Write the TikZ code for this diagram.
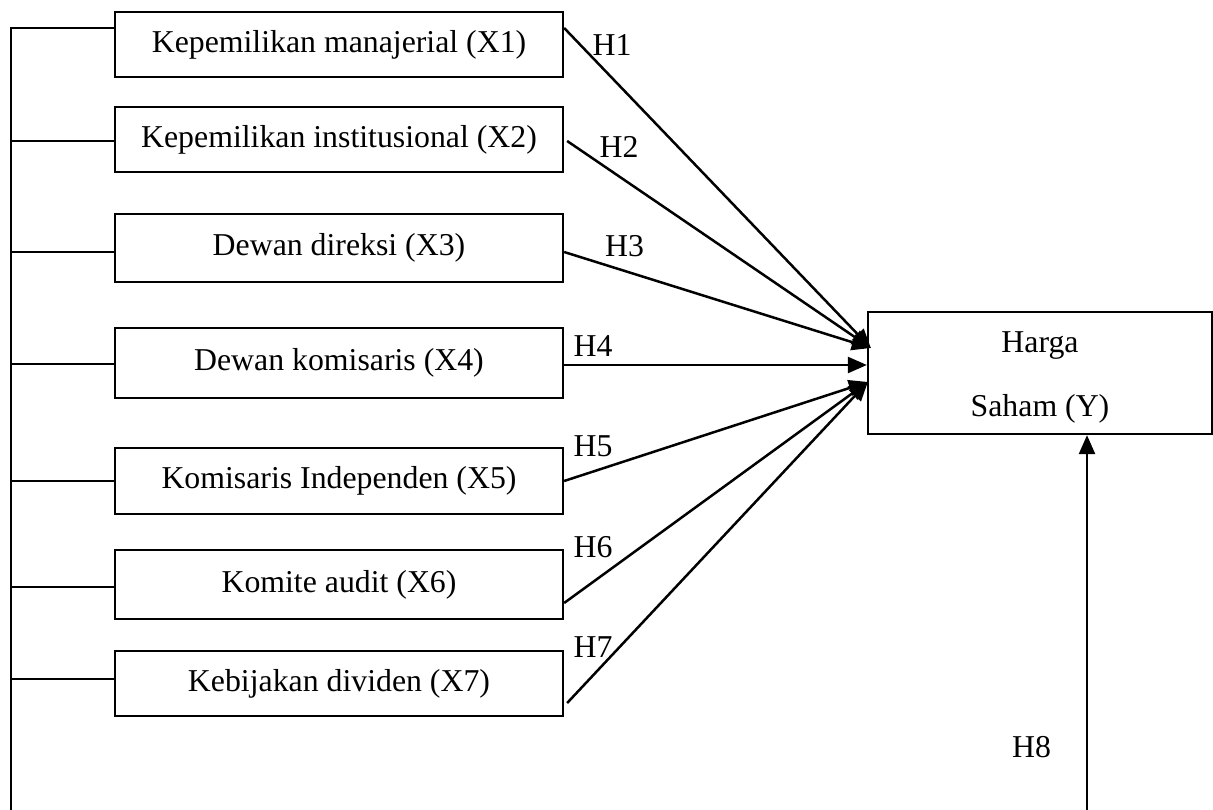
\documentclass[tikz,border=0pt]{standalone}
\usepackage{fontspec}
\setmainfont{Liberation Serif}
\usetikzlibrary{arrows.meta,calc}
\begin{document}
\begin{tikzpicture}[x=1pt,y=-1pt,
  varbox/.style={draw,line width=2.3pt,minimum width=448pt,inner sep=0pt,font=\fontsize{31.8}{38}\selectfont},
  hlab/.style={inner sep=0pt,font=\fontsize{31.8}{38}\selectfont},
  link/.style={line width=2.3pt},
  arr/.style={line width=2.5pt,-{Triangle[length=19pt,width=16pt]}}]
\useasboundingbox (0,0) rectangle (1213,810);
% variable boxes
\node[varbox,minimum height=65pt] (b1) at (339,44.5) {Kepemilikan manajerial (X1)};
\node[varbox,minimum height=65pt] (b2) at (339,139.5) {Kepemilikan institusional (X2)};
\node[varbox,minimum height=68pt] (b3) at (339,248) {Dewan direksi (X3)};
\node[varbox,minimum height=70pt] (b4) at (339,363) {Dewan komisaris (X4)};
\node[varbox,minimum height=66pt] (b5) at (339,481) {Komisaris Independen (X5)};
\node[varbox,minimum height=69pt] (b6) at (339,584.5) {Komite audit (X6)};
\node[varbox,minimum height=65pt] (b7) at (339,683.5) {Kebijakan dividen (X7)};
% dependent box
\node[draw,line width=2.3pt,minimum width=344pt,minimum height=122pt,inner sep=0pt,align=center,
  font=\fontsize{31.8}{64}\selectfont] (Y) at (1040,373) {\rule{0pt}{30pt}Harga\\Saham (Y)};
% left spine
\coordinate (spinebot) at (11,810);
\coordinate (h8bot) at (1087,810);
\coordinate (j1) at ([yshift=16.5pt]b1.west);
\draw[link] (spinebot) -- (spinebot |- j1) -- (j1);
\draw[link] ([yshift=-1.5pt]b2.west) -- ++(-104,0);
\draw[link] ([yshift=-4pt]b3.west) -- ++(-104,0);
\draw[link] ([yshift=-1pt]b4.west) -- ++(-104,0);
\draw[link] (b5.west) -- ++(-104,0);
\draw[link] ([yshift=-2.5pt]b6.west) -- ++(-104,0);
\draw[link] ([yshift=4.5pt]b7.west) -- ++(-104,0);
% arrows
\draw[arr] ([yshift=16.5pt]b1.east) -- ($(Y.west)+(4,-25)$);
\draw[arr] ([yshift=-1.5pt,xshift=3pt]b2.east) -- ($(Y.west)+(4,-25)$);
\draw[arr] ([yshift=-4pt]b3.east) -- ($(Y.west)+(4,-25)$);
\draw[arr] ([yshift=-2pt]b4.east) -- ($(Y.west)+(0,-8)$);
\draw[arr] (b5.east) -- ($(Y.west)+(1,9)$);
\draw[arr] ([yshift=-18.5pt]b6.east) -- ($(Y.west)+(1,9)$);
\draw[arr] ([yshift=-19.5pt,xshift=3pt]b7.east) -- ($(Y.west)+(1,9)$);
\draw[arr] (h8bot) -- (h8bot |- Y.south);
% labels
\node[hlab] (l1) at (612,45.5) {H1};
\node[hlab] (l2) at (619,147) {H2};
\node[hlab] (l3) at (624.5,246) {H3};
\node[hlab] (l4) at (593,346) {H4};
\node[hlab] (l5) at (593,446.5) {H5};
\node[hlab] (l6) at (593,547.5) {H6};
\node[hlab] (l7) at (593,647.5) {H7};
\node[hlab] (l8) at (1031.5,747.5) {H8};
\end{tikzpicture}
\end{document}
